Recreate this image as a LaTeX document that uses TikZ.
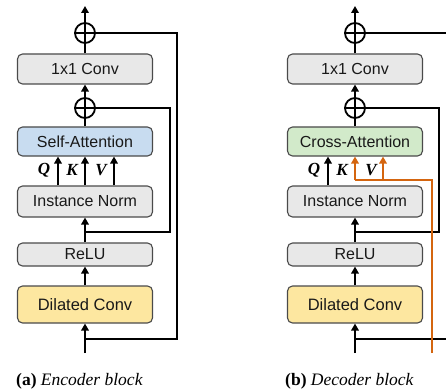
\documentclass[tikz,border=0pt]{standalone}
\usepackage{fontspec}
\setmainfont{Liberation Serif}
\setsansfont{Liberation Sans}
\usetikzlibrary{arrows.meta,calc}

\definecolor{boxedge}{HTML}{4A4A4A}
\definecolor{boxgray}{HTML}{E8E8E8}
\definecolor{attnblue}{HTML}{C8DCF0}
\definecolor{attngreen}{HTML}{D2EACA}
\definecolor{convyellow}{HTML}{FDE7A0}
\definecolor{kvorange}{HTML}{D4650F}

\tikzset{
  blk/.style={draw=boxedge, line width=1.1pt, rounded corners=5pt,
    minimum width=135pt, inner sep=0pt, fill=boxgray, text=black!90,
    font=\sffamily\fontsize{16}{16}\selectfont},
  sumnode/.style={circle, draw, line width=1.8pt, minimum size=20pt, inner sep=0pt,
    path picture={\draw[line width=1.8pt]
      (path picture bounding box.north) -- (path picture bounding box.south)
      (path picture bounding box.west) -- (path picture bounding box.east);}},
  wire/.style={line width=2pt},
  flow/.style={line width=2pt, -{Triangle[length=7pt,width=7.5pt]}},
  qkv/.style={font=\bfseries\itshape\fontsize{17}{17}\selectfont, inner sep=0pt},
  caption/.style={font=\fontsize{17.5}{17.5}\selectfont, inner sep=0pt, anchor=base west}
}

% One encoder/decoder block: #1 column x, #2 name prefix, #3 attention label,
% #4 attention fill, #5 x of the outer skip rail, #6 x of the inner skip rail
\newcommand\drawblock[6]{%
  \node[sumnode] (#2top) at (#1,33) {};
  \node[blk, minimum height=30pt] (#2conv) at (#1,69) {1x1 Conv};
  \node[sumnode] (#2mid) at (#1,108) {};
  \node[blk, minimum height=29pt, fill=#4] (#2attn) at (#1,141.5) {#3};
  \node[blk, minimum height=31pt] (#2norm) at (#1,201.5) {Instance Norm};
  \node[blk, minimum height=23pt] (#2relu) at (#1,254.5) {ReLU};
  \node[blk, minimum height=37pt, fill=convyellow, font=\sffamily\fontsize{16.5}{16.5}\selectfont] (#2dil) at (#1,304.5) {Dilated Conv};
  \coordinate (#2out) at (#1,6);
  \coordinate (#2in) at (#1,353);
  \coordinate (#2fork) at (#1,339);
  \coordinate (#2tap) at (#1,232);
  \coordinate (#2outer) at (#5,339);
  \coordinate (#2inner) at (#6,232);
  % main path
  \draw[flow] (#2top.north) -- (#2out);
  \draw[wire] (#2conv.north) -- (#2top.south);
  \draw[flow] (#2mid.north) -- (#2conv.south);
  \draw[wire] (#2attn.north) -- (#2mid.south);
  \draw[flow] (#2relu.north) -- (#2norm.south);
  \draw[flow] (#2dil.north) -- (#2relu.south);
  \draw[flow] (#2in) -- (#2dil.south);
  % residual connections
  \draw[wire] (#2fork) -- (#2outer) |- (#2top.east);
  \draw[wire] (#2tap) -- (#2inner) |- (#2mid.east);
  % query / key / value labels
  \node[qkv] (#2q) at ($(#1,170)+(-41,0)$) {Q};
  \node[qkv] (#2k) at ($(#1,170)+(-13,0)$) {K};
  \node[qkv] (#2v) at ($(#1,170)+(16,0)$) {V};
}

\begin{document}
\begin{tikzpicture}[x=1pt,y=-1pt]
  \clip (0,0) rectangle (446,390);

  % (a) encoder block
  \drawblock{85}{e}{Self-Attention}{attnblue}{177}{170}
  \draw[flow] (enorm.north -| 58,0) -- (eattn.south -| 58,0);
  \draw[flow] (enorm.north) -- (eattn.south);
  \draw[flow] (enorm.north -| 114,0) -- (eattn.south -| 114,0);
  \node[caption] (capa) at (16,385) {\textbf{(a)} \textit{Encoder block}};

  % (b) decoder block
  \drawblock{355}{d}{Cross-Attention}{attngreen}{448}{439}
  \draw[flow] (dnorm.north -| 328,0) -- (dattn.south -| 328,0);
  \coordinate (dsrc) at (432,353);
  \coordinate (dkfoot) at (355,180);
  \coordinate (dvfoot) at (383,180);
  \draw[wire, kvorange] (dsrc) |- (dkfoot);
  \draw[flow, kvorange] (dkfoot) -- (dattn.south);
  \draw[flow, kvorange] (dvfoot) -- (dattn.south -| dvfoot);
  \node[caption] (capb) at (285,385) {\textbf{(b)} \textit{Decoder block}};
\end{tikzpicture}
\end{document}
